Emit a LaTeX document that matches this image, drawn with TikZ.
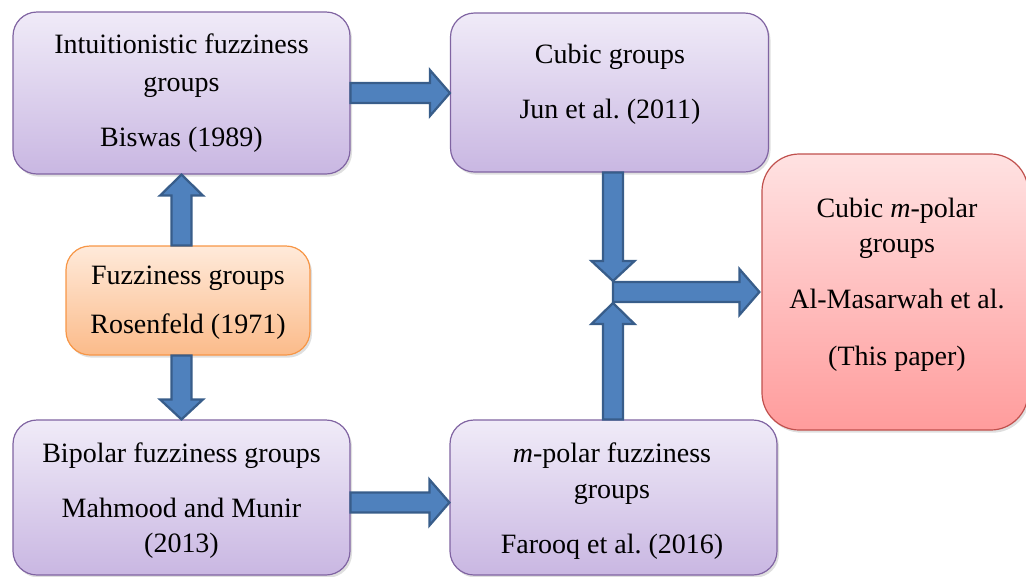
\documentclass[tikz,border=0pt]{standalone}
\usepackage{fontspec}
\setmainfont{Liberation Serif}
\usetikzlibrary{calc,shadows}
\frenchspacing
\definecolor{purpTop}{HTML}{F0EBF8}
\definecolor{purpBot}{HTML}{C9B7E2}
\definecolor{purpLine}{HTML}{8064A2}
\definecolor{orTop}{HTML}{FFEADA}
\definecolor{orBot}{HTML}{FBBB8A}
\definecolor{orLine}{HTML}{F79646}
\definecolor{redTop}{HTML}{FFE2E2}
\definecolor{redBot}{HTML}{FF9C9C}
\definecolor{redLine}{HTML}{C0504D}
\definecolor{arrFill}{HTML}{4F81BD}
\definecolor{arrLine}{HTML}{385D8A}
\tikzset{
  boxbase/.style={rounded corners=18pt, line width=0.9pt, inner sep=0pt,
    drop shadow={shadow xshift=1.5pt, shadow yshift=-2pt, opacity=0.25}},
  pbox/.style={boxbase, draw=purpLine, top color=purpTop, bottom color=purpBot},
  obox/.style={boxbase, draw=orLine, top color=orTop, bottom color=orBot},
  rbox/.style={boxbase, rounded corners=28pt, draw=redLine, top color=redTop, bottom color=redBot},
  txt/.style={anchor=base, inner sep=0pt, font=\fontsize{21}{25}\selectfont},
  barrow/.style={fill=arrFill, draw=arrLine, line width=1.7pt, line join=miter},
}
% right-pointing block arrow: #1 start, #2 tip
\newcommand\fatR[2]{\draw[barrow] ($(#1)+(0,-10)$) -- ($(#2)+(-20,-10)$) -- ($(#2)+(-20,-23)$) -- (#2) -- ($(#2)+(-20,23)$) -- ($(#2)+(-20,10)$) -- ($(#1)+(0,10)$) -- cycle;}
% up-pointing block arrow
\newcommand\fatU[2]{\draw[barrow] ($(#1)+(-10,0)$) -- ($(#2)+(-10,21)$) -- ($(#2)+(-21.5,21)$) -- (#2) -- ($(#2)+(21.5,21)$) -- ($(#2)+(10,21)$) -- ($(#1)+(10,0)$) -- cycle;}
% down-pointing block arrow
\newcommand\fatD[2]{\draw[barrow] ($(#1)+(-10,0)$) -- ($(#2)+(-10,-20)$) -- ($(#2)+(-21.5,-20)$) -- (#2) -- ($(#2)+(21.5,-20)$) -- ($(#2)+(10,-20)$) -- ($(#1)+(10,0)$) -- cycle;}
\begin{document}
\begin{tikzpicture}[x=0.75pt,y=-0.75pt]
\useasboundingbox (0,0) rectangle (1026,576);
% boxes
\node[pbox, minimum width={337*0.75pt}, minimum height={162*0.75pt}] (b1) at (181.5,93) {};
\node[pbox, minimum width={318*0.75pt}, minimum height={159*0.75pt}] (b2) at (609.5,92.5) {};
\node[obox, minimum width={244*0.75pt}, minimum height={109*0.75pt}] (b3) at (188,300.5) {};
\node[pbox, minimum width={337*0.75pt}, minimum height={155*0.75pt}] (b4) at (181.5,497.5) {};
\node[pbox, minimum width={327*0.75pt}, minimum height={155*0.75pt}] (b5) at (613.5,497.5) {};
\node[rbox, minimum width={266*0.75pt}, minimum height={276*0.75pt}] (b6) at (895,292) {};
% texts
\node[txt] (t1a) at (181.5,53) {Intuitionistic fuzziness};
\node[txt] (t1b) at (181.5,91) {groups};
\node[txt] (t1c) at (181.5,146) {Biswas (1989)};
\node[txt] (t2a) at (610,63) {Cubic groups};
\node[txt] (t2b) at (610,118) {Jun et al. (2011)};
\node[txt] (t3a) at (188,284) {Fuzziness groups};
\node[txt] (t3b) at (188,333) {Rosenfeld (1971)};
\node[txt] (t4a) at (181.5,462) {Bipolar fuzziness groups};
\node[txt] (t4b) at (181.5,517) {Mahmood and Munir};
\node[txt] (t4c) at (181.5,552) {(2013)};
\node[txt] (t5a) at (612,462) {\textit{m}-polar fuzziness};
\node[txt] (t5b) at (612,498) {groups};
\node[txt] (t5c) at (612,553) {Farooq et al. (2016)};
\node[txt] (t6a) at (897,217) {Cubic \textit{m}-polar};
\node[txt] (t6b) at (897,252) {groups};
\node[txt] (t6c) at (897,308) {Al-Masarwah et al.};
\node[txt] (t6d) at (897,365) {(This paper)};
% connectors
\coordinate (j) at (613,292);
\coordinate (jdown) at ($(j)+(0,-11)$);
\coordinate (jup) at ($(j)+(0,11)$);
\coordinate (c45) at ($(b4.east)+(0,5)$);
\coordinate (jt) at ($(b6.west |- j)+(-2,0)$);
\fatR{b1.east}{b2.west |- b1.east}
\fatU{b1.south |- b3.north}{b1.south}
\fatD{b4.north |- b3.south}{b4.north}
\fatR{c45}{b5.west |- c45}
\fatD{j |- b2.south}{jdown}
\fatU{j |- b5.north}{jup}
\fatR{j}{jt}
\end{tikzpicture}
\end{document}
